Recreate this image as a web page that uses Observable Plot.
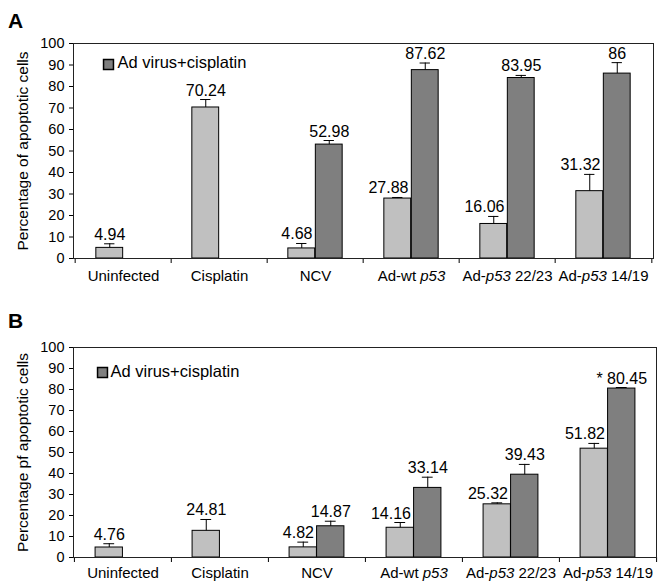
<!DOCTYPE html>
<html><head><meta charset="utf-8">
<script src="https://cdn.jsdelivr.net/npm/d3@7"></script>
<script src="https://cdn.jsdelivr.net/npm/@observablehq/plot@0.6"></script>
<style>
body{margin:0;background:#fff;font-family:"Liberation Sans",Arial,Helvetica,sans-serif;}
#wrap{width:660px;}
.letter{font-weight:bold;font-size:21px;line-height:24px;padding-left:8px;height:24px;}
svg{display:block;}
</style></head><body><div id="wrap">
<div class="letter" style="padding-top:9px">A</div>
<div id="a"></div>
<div class="letter" style="padding-top:19px">B</div>
<div id="b"></div>
</div>
<script>
const categories = ["Uninfected", "Cisplatin", "NCV", "Ad-wt p53", "Ad-p53 22/23", "Ad-p53 14/19"];
const legendLabel = "Ad virus+cisplatin";

// Panel A
const singleA = [4.94, 70.24, 4.68, 27.88, 16.06, 31.32];
const singleErrA = [1.9, 3.7, 2.3, 0.5, 3.5, 7.8];
const singleLabelsA = ["4.94", "70.24", "4.68", "27.88", "16.06", "31.32"];
const comboA = [null, null, 52.98, 87.62, 83.95, 86];
const comboErrA = [null, null, 1.9, 3.3, 1.2, 5.1];
const comboLabelsA = [null, null, "52.98", "87.62", "83.95", "86"];
const yLabelA = "Percentage of apoptotic cells";

// Panel B
const singleB = [4.76, 12.7, 4.82, 14.16, 25.32, 51.82];
const singleErrB = [1.8, 5.4, 2.5, 2.5, 0.7, 2.5];
const singleLabelsB = ["4.76", "24.81", "4.82", "14.16", "25.32", "51.82"];
const comboB = [null, null, 14.87, 33.14, 39.43, 80.45];
const comboErrB = [null, null, 2.4, 5.1, 4.9, 0.5];
const comboLabelsB = [null, null, "14.87", "33.14", "39.43", "* 80.45"];
const yLabelB = "Percentage pf apoptotic cells";

const yTicks = [0, 10, 20, 30, 40, 50, 60, 70, 80, 90, 100];
const light = "#c0c0c0", dark = "#7f7f7f";

function panel(p) {
  const width = 660, marginLeft = 73;
  const step = (width - marginLeft - p.marginRight) / categories.length;
  const bw = 27.5, cap = 5.5;
  const lc = -bw / 2, rc = bw / 2;
  const rows = categories.map((c, i) => ({
    cat: c, s: p.single[i], se: p.singleErr[i], sl: p.singleLabels[i],
    c: p.combo[i], ce: p.comboErr[i], cl: p.comboLabels[i], hasC: p.combo[i] != null
  }));
  const rowsC = rows.filter(d => d.hasC);
  const rowsS = rows.filter(d => !d.hasC);
  const svg = Plot.plot({
    width, height: p.height,
    marginLeft, marginRight: p.marginRight, marginTop: p.marginTop, marginBottom: p.marginBottom,
    style: {fontFamily: '"Liberation Sans", Arial, Helvetica, sans-serif', fontSize: "14px", background: "white", color: "black"},
    x: {domain: categories, padding: 0},
    y: {domain: [0, 100]},
    marks: [
      Plot.barY(rows, {x: "cat", y: "s", fill: light, stroke: "black", strokeWidth: 1, insetLeft: step / 2 - bw, insetRight: step / 2}),
      Plot.barY(rowsC, {x: "cat", y: "c", fill: dark, stroke: "black", strokeWidth: 1, insetLeft: step / 2, insetRight: step / 2 - bw}),
      Plot.ruleX(rows, {x: "cat", y1: "s", y2: d => d.s + d.se, dx: lc, stroke: "black"}),
      Plot.tickY(rows, {x: "cat", y: d => d.s + d.se, insetLeft: step / 2 + lc - cap, insetRight: step / 2 - lc - cap, stroke: "black"}),
      Plot.ruleX(rowsC, {x: "cat", y1: "c", y2: d => d.c + d.ce, dx: rc, stroke: "black"}),
      Plot.tickY(rowsC, {x: "cat", y: d => d.c + d.ce, insetLeft: step / 2 + rc - cap, insetRight: step / 2 - rc - cap, stroke: "black"}),
      Plot.text(rowsS, {x: "cat", y: d => d.s + d.se, text: "sl", dx: lc, dy: -4, lineAnchor: "bottom", fontSize: 16}),
      Plot.text(rowsC, {x: "cat", y: d => d.s + d.se, text: "sl", dx: -3, dy: -4, textAnchor: "end", lineAnchor: "bottom", fontSize: 16}),
      Plot.text(rowsC, {x: "cat", y: d => d.c + d.ce, text: "cl", dx: rc, dy: -4, lineAnchor: "bottom", fontSize: 16}),
      Plot.axisY({ticks: yTicks, tickSize: 4, tickPadding: 5, fontSize: 14.5, label: null}),
      Plot.axisX({tickSize: 0, tickPadding: p.xLabelPad, fontSize: 15, label: null}),
      Plot.axisX({tickSize: 5, tickFormat: () => "", dx: -step / 2, label: null}),
      Plot.axisX({ticks: [categories[categories.length - 1]], tickSize: 5, tickFormat: () => "", dx: step / 2, label: null}),
      Plot.frame({stroke: "#222"}),
      Plot.text([p.yLabel], {text: d => d, frameAnchor: "left", dx: -57, rotate: -90, lineAnchor: "top", textAnchor: "middle", fontSize: 15.5}),
      Plot.dot([legendLabel], {frameAnchor: "top-left", dx: p.sq[0], dy: p.sq[1], symbol: "square", r: 5.6, fill: dark, stroke: "black"}),
      Plot.text([legendLabel], {text: d => d, frameAnchor: "top-left", dx: p.lt[0], dy: p.lt[1], textAnchor: "start", lineAnchor: "middle", fontSize: 16.5})
    ]
  });
  // italicize gene name in tick labels
  svg.querySelectorAll('g[aria-label="x-axis tick label"] text').forEach(t => {
    const s = t.textContent;
    if (!s.includes("p53")) return;
    const parts = s.split(/(p53)/);
    t.textContent = "";
    parts.forEach(part => {
      if (!part) return;
      const ts = document.createElementNS("http://www.w3.org/2000/svg", "tspan");
      ts.textContent = part;
      if (part === "p53") ts.setAttribute("font-style", "italic");
      t.appendChild(ts);
    });
  });
  return svg;
}

document.getElementById("a").appendChild(panel({
  single: singleA, singleErr: singleErrA, singleLabels: singleLabelsA,
  combo: comboA, comboErr: comboErrA, comboLabels: comboLabelsA, yLabel: yLabelA,
  height: 257, marginTop: 10, marginBottom: 32, marginRight: 7, xLabelPad: 12,
  sq: [35, 21], lt: [44, 19]
}));
document.getElementById("b").appendChild(panel({
  single: singleB, singleErr: singleErrB, singleLabels: singleLabelsB,
  combo: comboB, comboErr: comboErrB, comboLabels: comboLabelsB, yLabel: yLabelB,
  height: 250, marginTop: 14, marginBottom: 26, marginRight: 4, xLabelPad: 10,
  sq: [29, 25], lt: [37, 24]
}));
</script>
</body></html>
